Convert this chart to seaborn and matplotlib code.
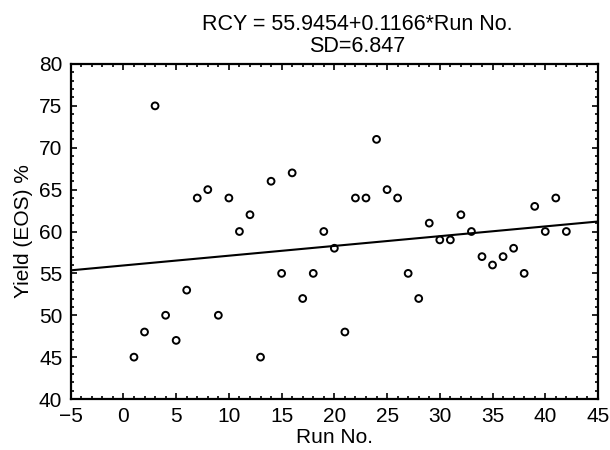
import matplotlib
matplotlib.use("Agg")
import matplotlib.pyplot as plt
from matplotlib.ticker import MultipleLocator
import seaborn as sns
import pandas as pd

# data
run_no = list(range(1, 43))
yield_eos = [45, 48, 75, 50, 47, 53, 64, 65, 50, 64,
             60, 62, 45, 66, 55, 67, 52, 55, 60, 58,
             48, 64, 64, 71, 65, 64, 55, 52, 61, 59,
             59, 62, 60, 57, 56, 57, 58, 55, 63, 60,
             64, 60]
title_lines = ["RCY = 55.9454+0.1166*Run No.", "SD=6.847"]

df = pd.DataFrame({"Run No.": run_no, "Yield": yield_eos})

sns.set_style("ticks")
plt.rcParams["font.family"] = ["Liberation Sans", "DejaVu Sans"]
plt.rcParams["font.size"] = 15
plt.rcParams["text.color"] = "black"
plt.rcParams["axes.labelcolor"] = "black"

fig = plt.figure(figsize=(6.1, 4.5), dpi=100)
ax = fig.add_axes([0.1159, 0.1133, 0.8644, 0.7445])
ax.set_xlim(-5, 45)
ax.set_ylim(40, 80)

sns.regplot(data=df, x="Run No.", y="Yield", ax=ax, ci=None, truncate=False,
            scatter_kws=dict(s=24, facecolors="none", edgecolors="black",
                             linewidths=1.4, alpha=1),
            line_kws=dict(color="black", lw=1.5))

ax.set_xlim(-5, 45)
ax.set_ylim(40, 80)
ax.xaxis.set_major_locator(MultipleLocator(5))
ax.xaxis.set_minor_locator(MultipleLocator(1))
ax.yaxis.set_major_locator(MultipleLocator(5))
ax.yaxis.set_minor_locator(MultipleLocator(1))
ax.tick_params(which="both", direction="in", top=True, right=True, colors="black",
               labelsize=15, width=1.2)
ax.tick_params(which="major", length=4, pad=6)
ax.tick_params(which="minor", length=2)
for s in ax.spines.values():
    s.set_linewidth(1.6)
    s.set_color("black")

ax.set_xlabel("Run No.", fontsize=15, labelpad=1)
ax.set_ylabel("Yield (EOS) %", fontsize=15, labelpad=4)

fig.text(357 / 610, 1 - 25 / 450, title_lines[0], ha="center", va="center", fontsize=15.5)
fig.text(357 / 610, 1 - 47 / 450, title_lines[1], ha="center", va="center", fontsize=15.5)

fig.savefig("out.png", dpi=100)
